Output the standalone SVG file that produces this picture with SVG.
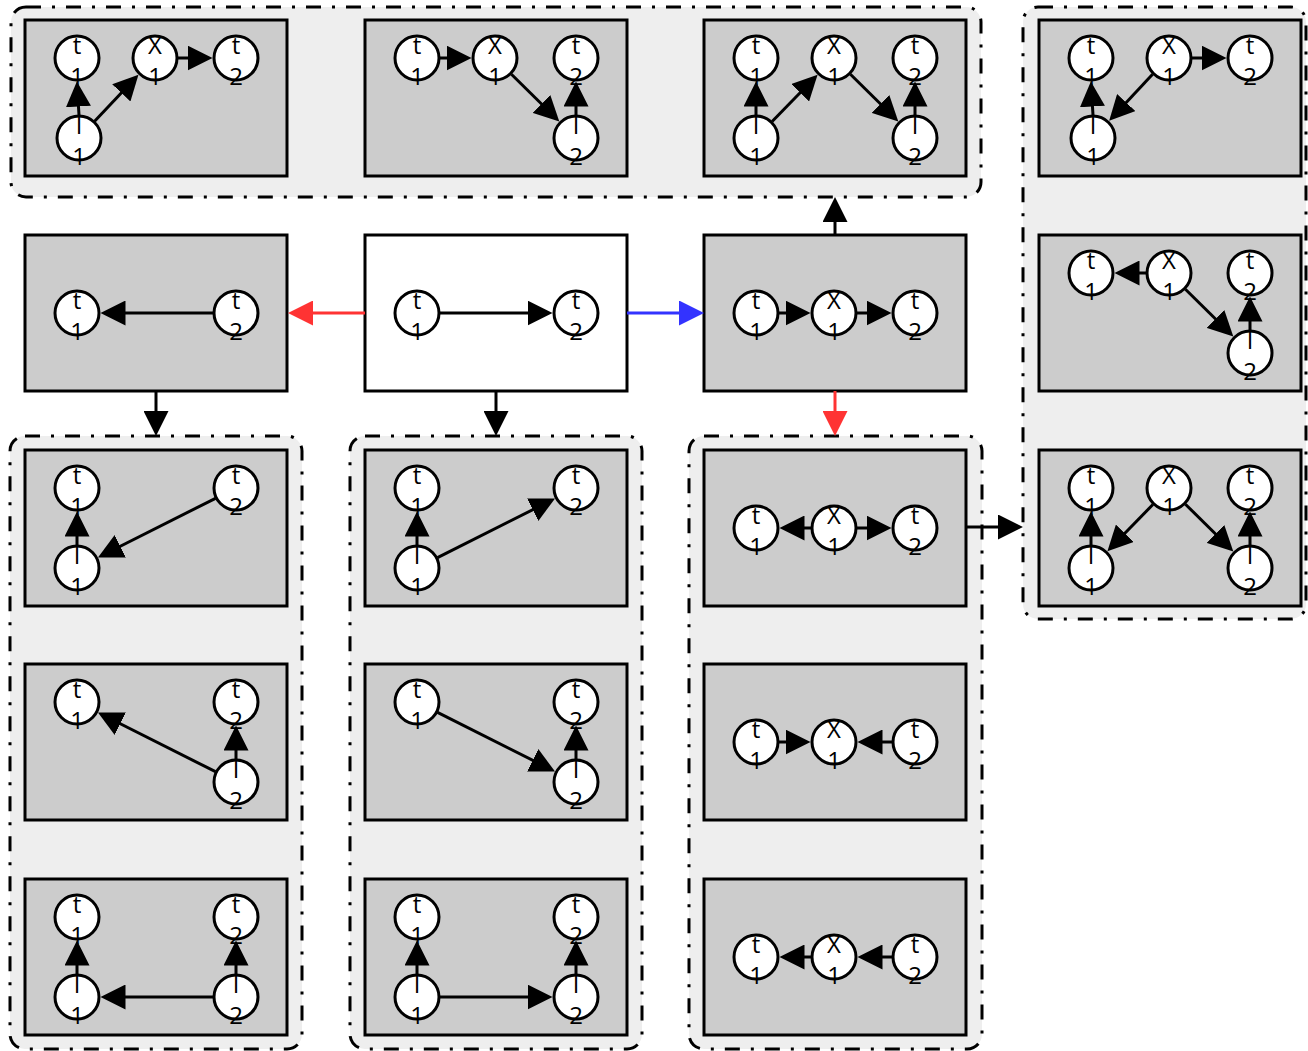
<svg xmlns="http://www.w3.org/2000/svg" width="1308" height="1051" viewBox="0 0 1308 1051">
<style>
.grp{fill:#eeeeee;stroke:#000;stroke-width:3;stroke-dasharray:15 11 3 11}
.box{fill:#cccccc;stroke:#000;stroke-width:3}
.white{fill:#ffffff}
.nd circle{fill:#fff;stroke:#000;stroke-width:3}
.nd text{font-family:"Open Sans","DejaVu Sans",sans-serif;font-size:24px;text-anchor:middle;fill:#000}
.e{fill:none;stroke:#000;stroke-width:3;marker-end:url(#ah)}
.red{stroke:#ff3333;marker-end:url(#ahr)}
.blue{stroke:#3333ff;marker-end:url(#ahb)}
</style>
<defs>
<marker id="ah" markerUnits="userSpaceOnUse" markerWidth="25" markerHeight="25" refX="15" refY="12.5" orient="auto"><path d="M0,0L25,12.5L0,25z" fill="#000"/></marker>
<marker id="ahr" markerUnits="userSpaceOnUse" markerWidth="25" markerHeight="25" refX="15" refY="12.5" orient="auto"><path d="M0,0L25,12.5L0,25z" fill="#ff3333"/></marker>
<marker id="ahb" markerUnits="userSpaceOnUse" markerWidth="25" markerHeight="25" refX="15" refY="12.5" orient="auto"><path d="M0,0L25,12.5L0,25z" fill="#3333ff"/></marker>
</defs>
<rect width="1308" height="1051" fill="#fff"/>
<g id="groups">
<rect id="grp-top" class="grp" x="11" y="7" width="970" height="190" rx="15"/>
<rect id="grp-right" class="grp" x="1023" y="7" width="283" height="612" rx="15"/>
<rect id="grp-bl" class="grp" x="10" y="436" width="292" height="613" rx="15"/>
<rect id="grp-bm" class="grp" x="350" y="436" width="292" height="613" rx="15"/>
<rect id="grp-br" class="grp" x="689" y="436" width="293" height="613" rx="15"/>
</g>

<g id="T1" transform="translate(25,20)">
<rect class="box" width="262" height="156"/>
<g id="T1-t1" class="nd" transform="translate(52,38)"><circle r="22"/><text y="-4">t</text><text y="27">1</text></g>
<g id="T1-x1" class="nd" transform="translate(130,38)"><circle r="22"/><text y="-4">X</text><text y="27">1</text></g>
<g id="T1-t2" class="nd" transform="translate(211,38)"><circle r="22"/><text y="-4">t</text><text y="27">2</text></g>
<g id="T1-l1" class="nd" transform="translate(54,118)"><circle r="22"/><text y="-4">l</text><text y="27">1</text></g>
</g>
<g id="T2" transform="translate(365,20)">
<rect class="box" width="262" height="156"/>
<g id="T2-t1" class="nd" transform="translate(52,38)"><circle r="22"/><text y="-4">t</text><text y="27">1</text></g>
<g id="T2-x1" class="nd" transform="translate(130,38)"><circle r="22"/><text y="-4">X</text><text y="27">1</text></g>
<g id="T2-t2" class="nd" transform="translate(211,38)"><circle r="22"/><text y="-4">t</text><text y="27">2</text></g>
<g id="T2-l2" class="nd" transform="translate(211,118)"><circle r="22"/><text y="-4">l</text><text y="27">2</text></g>
</g>
<g id="T3" transform="translate(704,20)">
<rect class="box" width="262" height="156"/>
<g id="T3-t1" class="nd" transform="translate(52,38)"><circle r="22"/><text y="-4">t</text><text y="27">1</text></g>
<g id="T3-x1" class="nd" transform="translate(130,38)"><circle r="22"/><text y="-4">X</text><text y="27">1</text></g>
<g id="T3-t2" class="nd" transform="translate(211,38)"><circle r="22"/><text y="-4">t</text><text y="27">2</text></g>
<g id="T3-l1" class="nd" transform="translate(52,118)"><circle r="22"/><text y="-4">l</text><text y="27">1</text></g>
<g id="T3-l2" class="nd" transform="translate(211,118)"><circle r="22"/><text y="-4">l</text><text y="27">2</text></g>
</g>

<g id="M1" transform="translate(25,235)">
<rect class="box" width="262" height="156"/>
<g id="M1-t1" class="nd" transform="translate(52,78)"><circle r="22"/><text y="-4">t</text><text y="27">1</text></g>
<g id="M1-t2" class="nd" transform="translate(211,78)"><circle r="22"/><text y="-4">t</text><text y="27">2</text></g>
</g>
<g id="M2" transform="translate(365,235)">
<rect class="box white" width="262" height="156"/>
<g id="M2-t1" class="nd" transform="translate(52,78)"><circle r="22"/><text y="-4">t</text><text y="27">1</text></g>
<g id="M2-t2" class="nd" transform="translate(211,78)"><circle r="22"/><text y="-4">t</text><text y="27">2</text></g>
</g>
<g id="M3" transform="translate(704,235)">
<rect class="box" width="262" height="156"/>
<g id="M3-t1" class="nd" transform="translate(52,78)"><circle r="22"/><text y="-4">t</text><text y="27">1</text></g>
<g id="M3-x1" class="nd" transform="translate(130,78)"><circle r="22"/><text y="-4">X</text><text y="27">1</text></g>
<g id="M3-t2" class="nd" transform="translate(211,78)"><circle r="22"/><text y="-4">t</text><text y="27">2</text></g>
</g>

<g id="R1" transform="translate(1039,20)">
<rect class="box" width="262" height="156"/>
<g id="R1-t1" class="nd" transform="translate(52,38)"><circle r="22"/><text y="-4">t</text><text y="27">1</text></g>
<g id="R1-x1" class="nd" transform="translate(130,38)"><circle r="22"/><text y="-4">X</text><text y="27">1</text></g>
<g id="R1-t2" class="nd" transform="translate(211,38)"><circle r="22"/><text y="-4">t</text><text y="27">2</text></g>
<g id="R1-l1" class="nd" transform="translate(54,118)"><circle r="22"/><text y="-4">l</text><text y="27">1</text></g>
</g>
<g id="R2" transform="translate(1039,235)">
<rect class="box" width="262" height="156"/>
<g id="R2-t1" class="nd" transform="translate(52,38)"><circle r="22"/><text y="-4">t</text><text y="27">1</text></g>
<g id="R2-x1" class="nd" transform="translate(130,38)"><circle r="22"/><text y="-4">X</text><text y="27">1</text></g>
<g id="R2-t2" class="nd" transform="translate(211,38)"><circle r="22"/><text y="-4">t</text><text y="27">2</text></g>
<g id="R2-l2" class="nd" transform="translate(211,118)"><circle r="22"/><text y="-4">l</text><text y="27">2</text></g>
</g>
<g id="R3" transform="translate(1039,450)">
<rect class="box" width="262" height="156"/>
<g id="R3-t1" class="nd" transform="translate(52,38)"><circle r="22"/><text y="-4">t</text><text y="27">1</text></g>
<g id="R3-x1" class="nd" transform="translate(130,38)"><circle r="22"/><text y="-4">X</text><text y="27">1</text></g>
<g id="R3-t2" class="nd" transform="translate(211,38)"><circle r="22"/><text y="-4">t</text><text y="27">2</text></g>
<g id="R3-l1" class="nd" transform="translate(52,118)"><circle r="22"/><text y="-4">l</text><text y="27">1</text></g>
<g id="R3-l2" class="nd" transform="translate(211,118)"><circle r="22"/><text y="-4">l</text><text y="27">2</text></g>
</g>

<g id="BL1" transform="translate(25,450)">
<rect class="box" width="262" height="156"/>
<g id="BL1-t1" class="nd" transform="translate(52,38)"><circle r="22"/><text y="-4">t</text><text y="27">1</text></g>
<g id="BL1-t2" class="nd" transform="translate(211,38)"><circle r="22"/><text y="-4">t</text><text y="27">2</text></g>
<g id="BL1-l1" class="nd" transform="translate(52,118)"><circle r="22"/><text y="-4">l</text><text y="27">1</text></g>
</g>
<g id="BL2" transform="translate(25,664)">
<rect class="box" width="262" height="156"/>
<g id="BL2-t1" class="nd" transform="translate(52,38)"><circle r="22"/><text y="-4">t</text><text y="27">1</text></g>
<g id="BL2-t2" class="nd" transform="translate(211,38)"><circle r="22"/><text y="-4">t</text><text y="27">2</text></g>
<g id="BL2-l2" class="nd" transform="translate(211,118)"><circle r="22"/><text y="-4">l</text><text y="27">2</text></g>
</g>
<g id="BL3" transform="translate(25,879)">
<rect class="box" width="262" height="156"/>
<g id="BL3-t1" class="nd" transform="translate(52,38)"><circle r="22"/><text y="-4">t</text><text y="27">1</text></g>
<g id="BL3-t2" class="nd" transform="translate(211,38)"><circle r="22"/><text y="-4">t</text><text y="27">2</text></g>
<g id="BL3-l1" class="nd" transform="translate(52,118)"><circle r="22"/><text y="-4">l</text><text y="27">1</text></g>
<g id="BL3-l2" class="nd" transform="translate(211,118)"><circle r="22"/><text y="-4">l</text><text y="27">2</text></g>
</g>

<g id="BM1" transform="translate(365,450)">
<rect class="box" width="262" height="156"/>
<g id="BM1-t1" class="nd" transform="translate(52,38)"><circle r="22"/><text y="-4">t</text><text y="27">1</text></g>
<g id="BM1-t2" class="nd" transform="translate(211,38)"><circle r="22"/><text y="-4">t</text><text y="27">2</text></g>
<g id="BM1-l1" class="nd" transform="translate(52,118)"><circle r="22"/><text y="-4">l</text><text y="27">1</text></g>
</g>
<g id="BM2" transform="translate(365,664)">
<rect class="box" width="262" height="156"/>
<g id="BM2-t1" class="nd" transform="translate(52,38)"><circle r="22"/><text y="-4">t</text><text y="27">1</text></g>
<g id="BM2-t2" class="nd" transform="translate(211,38)"><circle r="22"/><text y="-4">t</text><text y="27">2</text></g>
<g id="BM2-l2" class="nd" transform="translate(211,118)"><circle r="22"/><text y="-4">l</text><text y="27">2</text></g>
</g>
<g id="BM3" transform="translate(365,879)">
<rect class="box" width="262" height="156"/>
<g id="BM3-t1" class="nd" transform="translate(52,38)"><circle r="22"/><text y="-4">t</text><text y="27">1</text></g>
<g id="BM3-t2" class="nd" transform="translate(211,38)"><circle r="22"/><text y="-4">t</text><text y="27">2</text></g>
<g id="BM3-l1" class="nd" transform="translate(52,118)"><circle r="22"/><text y="-4">l</text><text y="27">1</text></g>
<g id="BM3-l2" class="nd" transform="translate(211,118)"><circle r="22"/><text y="-4">l</text><text y="27">2</text></g>
</g>

<g id="BR1" transform="translate(704,450)">
<rect class="box" width="262" height="156"/>
<g id="BR1-t1" class="nd" transform="translate(52,78)"><circle r="22"/><text y="-4">t</text><text y="27">1</text></g>
<g id="BR1-x1" class="nd" transform="translate(130,78)"><circle r="22"/><text y="-4">X</text><text y="27">1</text></g>
<g id="BR1-t2" class="nd" transform="translate(211,78)"><circle r="22"/><text y="-4">t</text><text y="27">2</text></g>
</g>
<g id="BR2" transform="translate(704,664)">
<rect class="box" width="262" height="156"/>
<g id="BR2-t1" class="nd" transform="translate(52,78)"><circle r="22"/><text y="-4">t</text><text y="27">1</text></g>
<g id="BR2-x1" class="nd" transform="translate(130,78)"><circle r="22"/><text y="-4">X</text><text y="27">1</text></g>
<g id="BR2-t2" class="nd" transform="translate(211,78)"><circle r="22"/><text y="-4">t</text><text y="27">2</text></g>
</g>
<g id="BR3" transform="translate(704,879)">
<rect class="box" width="262" height="156"/>
<g id="BR3-t1" class="nd" transform="translate(52,78)"><circle r="22"/><text y="-4">t</text><text y="27">1</text></g>
<g id="BR3-x1" class="nd" transform="translate(130,78)"><circle r="22"/><text y="-4">X</text><text y="27">1</text></g>
<g id="BR3-t2" class="nd" transform="translate(211,78)"><circle r="22"/><text y="-4">t</text><text y="27">2</text></g>
</g>

<g id="connectors">
<path class="e red" d="M365,313L298,313"/>
<path class="e blue" d="M627,313L694,313"/>
<path class="e" d="M156,391L156,426"/>
<path class="e" d="M496,391L496,426"/>
<path class="e" d="M835,235L835,207"/>
<path class="e red" d="M835,391L835,426"/>
<path class="e" d="M966,527L1013,527"/>
<g transform="translate(25,20)">
<path class="e" d="M54,95L52.5,71.5"/><path class="e" d="M69.6,101.3L106.6,62"/><path class="e" d="M153,38L177.5,38"/>
</g>
<g transform="translate(365,20)">
<path class="e" d="M75,38L96.5,38"/><path class="e" d="M146.4,54.2L187.2,94.5"/><path class="e" d="M211,95L211,71.5"/>
</g>
<g transform="translate(704,20)">
<path class="e" d="M52,95L52,71.5"/><path class="e" d="M68.1,101.5L106.6,62"/><path class="e" d="M146.4,54.2L187.2,94.5"/><path class="e" d="M211,95L211,71.5"/>
</g>
<g transform="translate(25,235)">
<path class="e" d="M188,78L85.5,78"/>
</g>
<g transform="translate(365,235)">
<path class="e" d="M75,78L177.5,78"/>
</g>
<g transform="translate(704,235)">
<path class="e" d="M75,78L96.5,78"/><path class="e" d="M153,78L177.5,78"/>
</g>
<g transform="translate(1039,20)">
<path class="e" d="M153,38L177.5,38"/><path class="e" d="M113.6,54.3L77,93.5"/><path class="e" d="M54,95L52.5,71.5"/>
</g>
<g transform="translate(1039,235)">
<path class="e" d="M107,38L85.5,38"/><path class="e" d="M146.4,54.2L187.2,94.5"/><path class="e" d="M211,95L211,71.5"/>
</g>
<g transform="translate(1039,450)">
<path class="e" d="M52,95L52,71.5"/><path class="e" d="M113.9,54.5L75.4,94"/><path class="e" d="M146.4,54.2L187.2,94.5"/><path class="e" d="M211,95L211,71.5"/>
</g>
<g transform="translate(25,450)">
<path class="e" d="M52,95L52,71.5"/><path class="e" d="M190.5,48.3L81.9,103"/>
</g>
<g transform="translate(25,664)">
<path class="e" d="M211,95L211,71.5"/><path class="e" d="M190.5,107.7L81.9,53"/>
</g>
<g transform="translate(25,879)">
<path class="e" d="M52,95L52,71.5"/><path class="e" d="M211,95L211,71.5"/><path class="e" d="M188,118L85.5,118"/>
</g>
<g transform="translate(365,450)">
<path class="e" d="M52,95L52,71.5"/><path class="e" d="M72.5,107.7L181.1,53"/>
</g>
<g transform="translate(365,664)">
<path class="e" d="M72.5,48.3L181.1,103"/><path class="e" d="M211,95L211,71.5"/>
</g>
<g transform="translate(365,879)">
<path class="e" d="M52,95L52,71.5"/><path class="e" d="M211,95L211,71.5"/><path class="e" d="M75,118L177.5,118"/>
</g>
<g transform="translate(704,450)">
<path class="e" d="M107,78L85.5,78"/><path class="e" d="M153,78L177.5,78"/>
</g>
<g transform="translate(704,664)">
<path class="e" d="M75,78L96.5,78"/><path class="e" d="M188,78L163.5,78"/>
</g>
<g transform="translate(704,879)">
<path class="e" d="M107,78L85.5,78"/><path class="e" d="M188,78L163.5,78"/>
</g>
</g>
</svg>
